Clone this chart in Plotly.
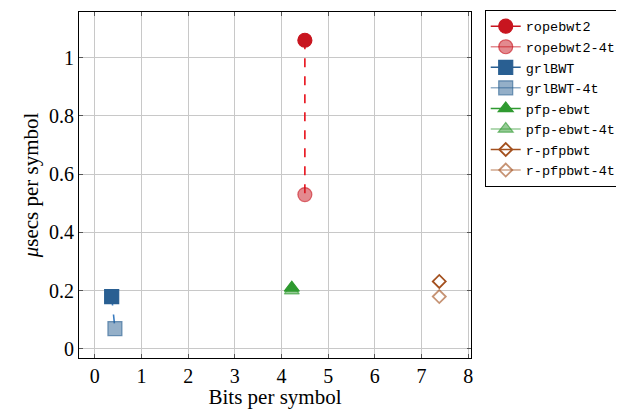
import plotly.graph_objects as go

names = ["ropebwt2", "ropebwt2-4t", "grlBWT", "grlBWT-4t", "pfp-ebwt", "pfp-ebwt-4t", "r-pfpbwt", "r-pfpbwt-4t"]
bits = [4.50, 4.50, 0.36, 0.43, 4.22, 4.22, 7.38, 7.38]
usecs = [1.06, 0.53, 0.18, 0.07, 0.21, 0.20, 0.232, 0.18]

rgb = [(200, 21, 31), (200, 21, 31), (41, 95, 146), (41, 95, 146),
       (47, 154, 48), (47, 154, 48), (163, 80, 30), (163, 80, 30)]
symbols = ["circle", "circle", "square", "square", "triangle-up", "triangle-up", "diamond-open", "diamond-open"]
sizes = [14, 14, 14, 14, 13, 13, 10, 10]
light = [False, True, False, True, False, True, False, True]


def rgba(c, a):
    return "rgba(%d,%d,%d,%.2f)" % (c[0], c[1], c[2], a)


fig = go.Figure()

# dashed connectors between single- and multi-threaded runs
for i in range(0, 8, 2):
    if names[i] in ("ropebwt2", "grlBWT"):
        fig.add_trace(go.Scatter(x=[bits[i], bits[i + 1]], y=[usecs[i], usecs[i + 1]], mode="lines",
                                 line=dict(color="#e8101a" if i == 0 else "#3a7cc0", dash="dash", width=1.6),
                                 showlegend=False, hoverinfo="skip"))

for i, n in enumerate(names):
    open_sym = symbols[i].endswith("open")
    fill = rgba(rgb[i], 0.5 if light[i] else 1.0)
    edge = rgba(rgb[i], 0.62 if light[i] else 1.0)
    fig.add_trace(go.Scatter(
        x=[bits[i]], y=[usecs[i]], name=n, mode="lines+markers",
        line=dict(color=rgba(rgb[i], 0.5 if light[i] else 1.0), width=1.5),
        marker=dict(symbol=symbols[i], size=sizes[i], color=edge if open_sym else fill,
                    line=dict(color=edge, width=1.8 if open_sym else 1.2)),
    ))

xticks = [0, 1, 2, 3, 4, 5, 6, 7, 8]
yticks = [0, 0.2, 0.4, 0.6, 0.8, 1]
yticktext = ["0", "0.2", "0.4", "0.6", "0.8", "1"]

# page body has an 8px default margin, so the figure is sized to fit the 624x409 window
fig.update_layout(
    width=616, height=401,
    margin=dict(l=71, r=151, t=2, b=51),
    plot_bgcolor="white", paper_bgcolor="white",
    font=dict(family="Liberation Serif", size=20, color="black"),
    legend=dict(x=1.035, y=1.006, xanchor="left", yanchor="top",
                bordercolor="black", borderwidth=1,
                font=dict(family="Liberation Mono", size=13.5),
                tracegroupgap=0, itemwidth=30),
    xaxis=dict(range=[-0.34, 8.06], tickvals=xticks, showgrid=True, gridcolor="#c8c8c8",
               showline=True, linecolor="black", linewidth=1, mirror="ticks",
               ticks="inside", ticklen=4, tickcolor="#555", zeroline=False, automargin=False,
               title=dict(text="Bits per symbol", font=dict(size=21), standoff=0)),
    yaxis=dict(range=[-0.031, 1.157], tickvals=yticks, ticktext=yticktext, showgrid=True, gridcolor="#c8c8c8",
               showline=True, linecolor="black", linewidth=1, mirror="ticks",
               ticks="inside", ticklen=4, tickcolor="#555", zeroline=False, automargin=False,
               title=dict(text="<i>μ</i>secs per symbol", font=dict(size=21), standoff=4)),
)

fig.write_html("out.html")
